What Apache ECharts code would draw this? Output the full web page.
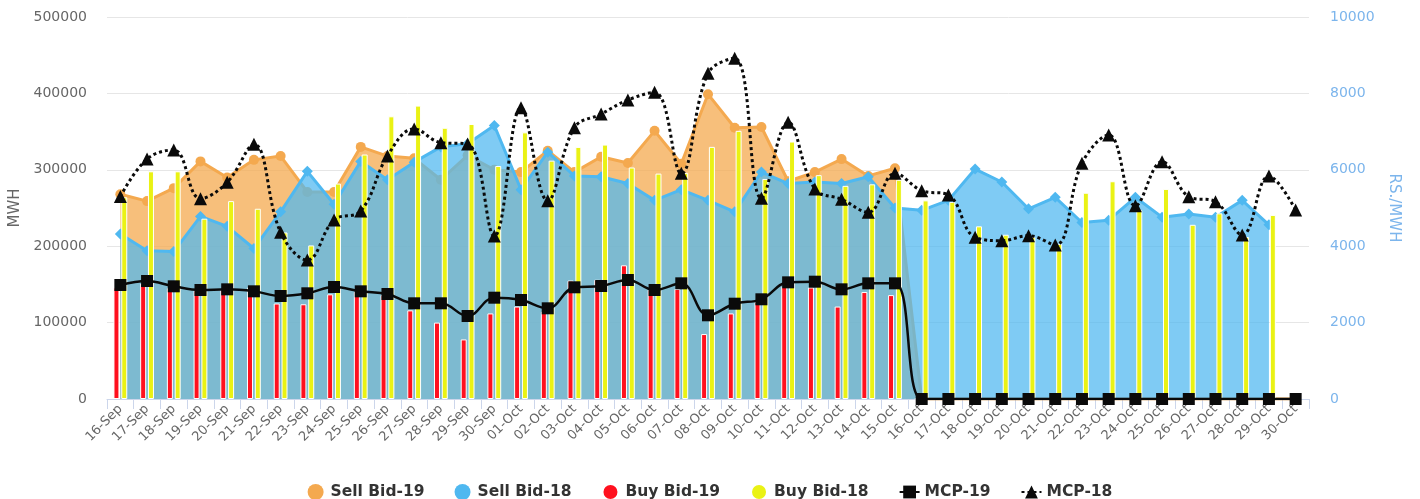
<!DOCTYPE html>
<html>
<head>
<meta charset="utf-8">
<script src="https://cdn.jsdelivr.net/npm/echarts@6/dist/echarts.min.js"></script>
<style>
  html, body { margin: 0; padding: 0; background: #ffffff; }
  #chart { width: 1420px; height: 499px; }
</style>
</head>
<body>
<div id="chart"></div>
<script>
const categories = [
  '16-Sep','17-Sep','18-Sep','19-Sep','20-Sep','21-Sep','22-Sep','23-Sep','24-Sep','25-Sep',
  '26-Sep','27-Sep','28-Sep','29-Sep','30-Sep','01-Oct','02-Oct','03-Oct','04-Oct','05-Oct',
  '06-Oct','07-Oct','08-Oct','09-Oct','10-Oct','11-Oct','12-Oct','13-Oct','14-Oct','15-Oct',
  '16-Oct','17-Oct','18-Oct','19-Oct','20-Oct','21-Oct','22-Oct','23-Oct','24-Oct','25-Oct',
  '26-Oct','27-Oct','28-Oct','29-Oct','30-Oct'
];

const sellBid19 = [
  268000, 259000, 276000, 311000, 290000, 313000, 318000, 271000, 271000, 330000,
  318000, 315000, 287000, 319000, 300000, 297000, 325000, 297000, 317000, 309000,
  351000, 308000, 399000, 355000, 356000, 285000, 297000, 314000, 292000, 302000,
  0, 0, 0, 0, 0, 0, 0, 0, 0, 0,
  0, 0, 0, 0, 0
];

const sellBid18 = [
  216000, 194000, 193000, 239000, 226000, 197000, 245000, 298000, 255000, 311000,
  287000, 310000, 330000, 334000, 358000, 274000, 323000, 292000, 291000, 282000,
  260000, 274000, 260000, 245000, 297000, 282000, 284000, 282000, 291000, 250000,
  247000, 260000, 301000, 284000, 249000, 264000, 231000, 234000, 264000, 238000,
  242000, 238000, 260000, 228000, null
];

const buyBid19 = [
  146000, 151000, 145000, 142000, 143000, 146000, 125000, 124000, 137000, 140000,
  136000, 116000, 100000, 78000, 112000, 121000, 114000, 155000, 156000, 175000,
  143000, 144000, 85000, 112000, 127000, 147000, 146000, 121000, 140000, 136000,
  0, 0, 0, 0, 0, 0, 0, 0, 0, 0,
  0, 0, 0, 0, 0
];

const buyBid18 = [
  264000, 298000, 298000, 236000, 259000, 249000, 218000, 201000, 282000, 320000,
  370000, 384000, 355000, 360000, 305000, 349000, 312000, 330000, 333000, 303000,
  295000, 296000, 330000, 351000, 288000, 337000, 293000, 279000, 281000, 287000,
  260000, 258000, 226000, 215000, 212000, 203000, 270000, 285000, 247000, 275000,
  228000, 243000, 212000, 241000, null
];

const mcp19 = [
  2985, 3089, 2950, 2854, 2871, 2819, 2697, 2767, 2932, 2819,
  2749, 2505, 2505, 2173, 2652, 2592, 2374, 2924, 2958, 3115,
  2854, 3028, 2191, 2495, 2610, 3054, 3071, 2871, 3028, 3028,
  0, 0, 0, 0, 0, 0, 0, 0, 0, 0,
  0, 0, 0, 0, 0
];

const mcp18 = [
  5300, 6283, 6519, 5244, 5673, 6668, 4364, 3639, 4686, 4922,
  6362, 7069, 6711, 6676, 4267, 7626, 5191, 7103, 7461, 7828,
  8029, 5908, 8527, 8919, 5254, 7244, 5498, 5228, 4887, 5908,
  5454, 5341, 4233, 4145, 4276, 4032, 6171, 6912, 5061, 6213,
  5297, 5166, 4294, 5838, 4948
];

const leftTicks = { min: 0, max: 500000, interval: 100000 };
const rightTicks = { min: 0, max: 10000, interval: 2000 };

const FONT = 'DejaVu Sans';
const ORANGE = '#f4a94f';
const BLUE = '#4fb8f0';
const RED = '#ff101e';
const YELLOW = '#eaf214';

const chart = echarts.init(document.getElementById('chart'), null, { renderer: 'canvas' });

chart.setOption({
  animation: false,
  backgroundColor: '#ffffff',
  textStyle: { fontFamily: FONT },
  grid: { left: 107, right: 111, top: 17, bottom: 100, containLabel: false, outerBoundsMode: 'none' },
  legend: {
    left: 'center',
    top: 483,
    itemWidth: 20,
    itemHeight: 16,
    itemGap: 30,
    padding: 0,
    textStyle: { fontFamily: FONT, fontSize: 15.5, fontWeight: 'bold', color: '#333333' },
    data: [
      { name: 'Sell Bid-19', icon: 'circle' },
      { name: 'Sell Bid-18', icon: 'circle' },
      { name: 'Buy Bid-19', icon: 'circle' },
      { name: 'Buy Bid-18', icon: 'circle' },
      { name: 'MCP-19' },
      { name: 'MCP-18' }
    ]
  },
  xAxis: {
    type: 'category',
    data: categories,
    boundaryGap: true,
    axisLine: { show: true, lineStyle: { color: '#ccd6eb', width: 1 } },
    axisTick: { show: true, length: 10, lineStyle: { color: '#ccd6eb' } },
    axisLabel: {
      interval: 0,
      rotate: 45,
      margin: 8,
      fontFamily: FONT,
      fontSize: 13,
      color: '#666666'
    },
    splitLine: { show: false }
  },
  yAxis: [
    {
      type: 'value',
      min: leftTicks.min,
      max: leftTicks.max,
      interval: leftTicks.interval,
      name: 'MWH',
      nameLocation: 'middle',
      nameGap: 84,
      nameRotate: 90,
      nameTextStyle: { fontFamily: FONT, fontSize: 15, color: '#666666' },
      axisLine: { show: false },
      axisTick: { show: false },
      axisLabel: { margin: 20, fontFamily: FONT, fontSize: 14, color: '#666666', formatter: v => String(v) },
      splitLine: { show: true, lineStyle: { color: '#e6e6e6', width: 1 } }
    },
    {
      type: 'value',
      min: rightTicks.min,
      max: rightTicks.max,
      interval: rightTicks.interval,
      position: 'right',
      name: 'RS./MWH',
      nameLocation: 'middle',
      nameGap: 77,
      nameRotate: -90,
      nameTextStyle: { fontFamily: FONT, fontSize: 15, color: '#7cb5ec' },
      axisLine: { show: false },
      axisTick: { show: false },
      axisLabel: { margin: 21, fontFamily: FONT, fontSize: 14, color: '#7cb5ec', formatter: v => String(v) },
      splitLine: { show: false }
    }
  ],
  series: [
    {
      name: 'Sell Bid-19',
      type: 'line',
      yAxisIndex: 0,
      z: 1,
      data: sellBid19,
      color: ORANGE,
      symbol: 'circle',
      symbolSize: 10,
      showSymbol: true,
      lineStyle: { color: ORANGE, width: 3 },
      itemStyle: { color: ORANGE },
      areaStyle: { color: ORANGE, opacity: 0.75 }
    },
    {
      name: 'Sell Bid-18',
      type: 'line',
      yAxisIndex: 0,
      z: 2,
      data: sellBid18,
      color: BLUE,
      symbol: 'diamond',
      symbolSize: 11,
      showSymbol: true,
      lineStyle: { color: BLUE, width: 3 },
      itemStyle: { color: BLUE },
      areaStyle: { color: BLUE, opacity: 0.73 }
    },
    {
      name: 'Buy Bid-19',
      type: 'bar',
      yAxisIndex: 0,
      z: 3,
      data: buyBid19,
      color: RED,
      barWidth: 6,
      barGap: '30%',
      itemStyle: { color: RED, borderColor: '#ffffff', borderWidth: 1 }
    },
    {
      name: 'Buy Bid-18',
      type: 'bar',
      yAxisIndex: 0,
      z: 3,
      data: buyBid18,
      color: YELLOW,
      barWidth: 6,
      barGap: '30%',
      itemStyle: { color: YELLOW, borderColor: '#ffffff', borderWidth: 1 }
    },
    {
      name: 'MCP-19',
      type: 'line',
      yAxisIndex: 1,
      z: 4,
      data: mcp19,
      color: '#0a0a0a',
      smooth: 0.4,
      symbol: 'rect',
      symbolSize: 12,
      showSymbol: true,
      lineStyle: { color: '#0a0a0a', width: 2.5 },
      itemStyle: { color: '#0a0a0a' }
    },
    {
      name: 'MCP-18',
      type: 'line',
      yAxisIndex: 1,
      z: 5,
      data: mcp18,
      color: '#0a0a0a',
      smooth: 0.4,
      symbol: 'triangle',
      symbolSize: 13,
      showSymbol: true,
      lineStyle: { color: '#0a0a0a', width: 3, type: [3, 3] },
      itemStyle: { color: '#0a0a0a' }
    }
  ]
});
</script>
</body>
</html>
